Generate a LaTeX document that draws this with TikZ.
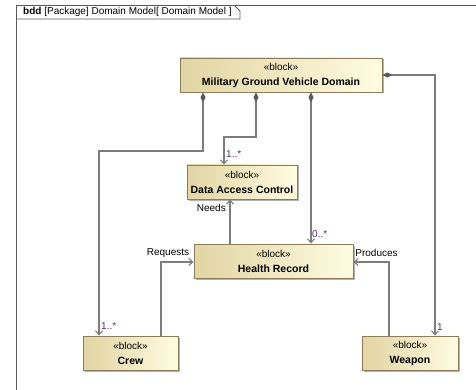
\documentclass[tikz,border=0pt]{standalone}
\usepackage{fontspec}
\setmainfont{Liberation Sans}
\usetikzlibrary{arrows.meta,shadows}

\definecolor{blockleft}{RGB}{226,212,163}
\definecolor{blockright}{RGB}{255,252,226}
\definecolor{blockedge}{RGB}{140,124,92}
\definecolor{linegray}{RGB}{125,125,125}
\definecolor{framegray}{RGB}{90,90,90}
\definecolor{multcol}{RGB}{105,40,95}

\newcommand{\blk}[1]{«block»\\{\fontsize{10.5}{15}\selectfont\bfseries #1}}

\begin{document}
\begin{tikzpicture}[x=1pt,y=-1pt,
  block/.style={draw=blockedge, line width=0.8pt, left color=blockleft, right color=blockright,
    minimum height=34pt, inner sep=0pt, align=center,
    font=\fontsize{10}{15}\selectfont,
    drop shadow={shadow xshift=1.5pt, shadow yshift=-1.5pt, fill=black!30, opacity=1}},
  comp/.style={draw=linegray, line width=1.1pt,
    {Diamond[length=10pt,width=5pt,fill=black!65,color=black!65]}-{Straight Barb[length=4pt,width=7pt]}},
  assoc/.style={draw=linegray, line width=1.1pt, -{Straight Barb[length=4pt,width=7pt]}},
  lbl/.style={font=\fontsize{10}{12}\selectfont, inner sep=0pt},
  mult/.style={font=\fontsize{10}{12}\selectfont, text=multcol, inner sep=0pt},
  framec/.style={draw=framegray, line width=0.9pt}
]
\useasboundingbox (0,0) rectangle (476,390);
\fill[white] (0,0) rectangle (476,390);

% diagram frame with its name tab
\draw[framec] (16,395) -- (16,5) -- (480,5);
\draw[framec] (16,19) -- (240,19) -- (240,11) -- (234,5);
\node[lbl, anchor=west] (title) at (23,12) {\textbf{bdd} [Package] Domain Model[ Domain Model ]};

% blocks
\node[block, minimum width=202pt] (mgvd) at (281,75) {\blk{Military Ground Vehicle Domain}};
\node[block, minimum width=110pt] (dac) at (242,182) {\blk{Data Access Control}};
\node[block, minimum width=159pt] (hr) at (273.5,261) {\blk{Health Record}};
\node[block, minimum width=95pt] (crew) at (130.5,353) {\blk{Crew}};
\node[block, minimum width=96pt] (weapon) at (410,353) {\blk{Weapon}};

% bend points of the connectors
\coordinate (b1) at (203,151);
\coordinate (b2) at (99,151);
\coordinate (b3) at (256,137);
\coordinate (b4) at (224,137);
\coordinate (b5) at (311,150);
\coordinate (b6) at (435,75);
\coordinate (b7) at (230,220);
\coordinate (b8) at (161,262);
\coordinate (b9) at (389,262);

% composite parts of the domain
\draw[comp] (mgvd.south -| b1) -- (b1) -- (b2) -- (crew.north -| b2);
\draw[comp] (mgvd.south -| b3) -- (b3) -- (b4) -- (dac.north -| b4);
\draw[comp] (mgvd.south -| b5) -- (hr.north -| b5);
\draw[comp] (mgvd.east) -- (mgvd.east -| b6) -- (weapon.north -| b6);

% directed associations
\draw[assoc] (hr.north -| b7) -- (dac.south -| b7);
\draw[assoc] (crew.north -| b8) -- (b8) -- (hr.west |- b8);
\draw[assoc] (weapon.north -| b9) -- (b9) -- (hr.east |- b9);

% role names and multiplicities
\node[lbl, anchor=east] (needs) at (226,208) {Needs};
\node[lbl] (req) at (168,253) {Requests};
\node[lbl] (prod) at (376.5,253) {Produces};
\node[mult, anchor=west] (m1) at (226,154) {1..*};
\node[mult, anchor=west] (m2) at (312,234) {0..*};
\node[mult, anchor=west] (m3) at (101,326) {1..*};
\node[mult, anchor=west] (m4) at (437,327) {1};
\end{tikzpicture}
\end{document}
